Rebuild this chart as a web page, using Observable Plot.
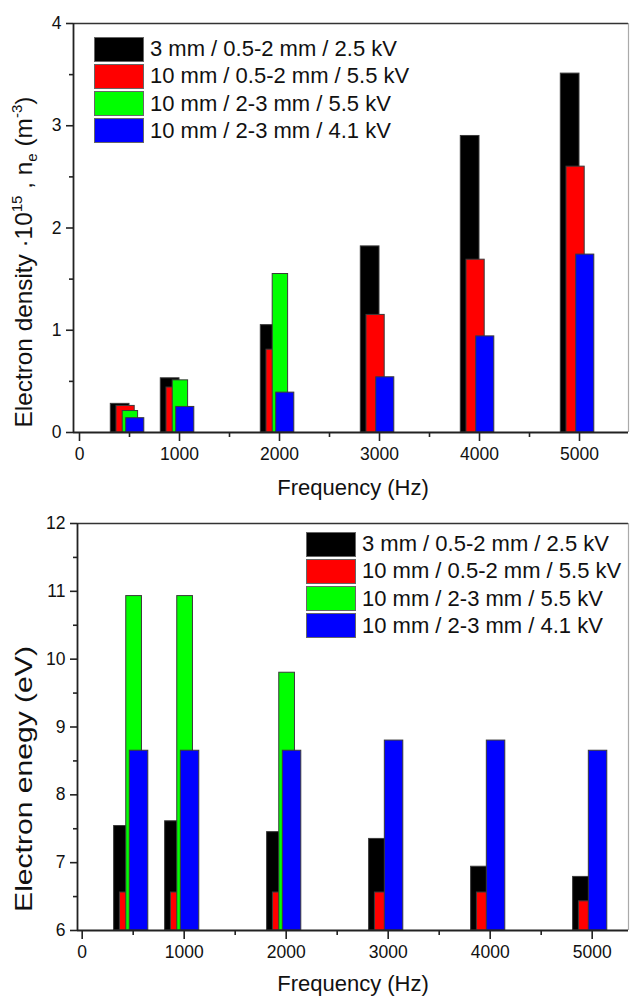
<!DOCTYPE html>
<html>
<head>
<meta charset="utf-8">
<script src="https://cdn.jsdelivr.net/npm/d3@7"></script>
<script src="https://cdn.jsdelivr.net/npm/@observablehq/plot@0.6"></script>
<style>
  html, body { margin: 0; padding: 0; background: #fff; }
  #wrap { position: relative; width: 630px; height: 996px; overflow: hidden; font-family: "Liberation Sans", Arial, sans-serif; }
  .panel { position: absolute; left: 0; }
  .legend { position: absolute; font-size: 22px; color: #111; }
  .row { display: flex; align-items: center; height: 24px; margin-bottom: 3.3px; }
  .sw { width: 48px; height: 23px; border: 1px solid #666; box-sizing: content-box; }
  .lab { margin-left: 6px; white-space: nowrap; line-height: 24px; }
</style>
</head>
<body>
<div id="wrap"></div>
<script>
// ---------- data ----------
const frequencies = [500, 1000, 2000, 3000, 4000, 5000];
const seriesNames = [
  "3 mm / 0.5-2 mm / 2.5 kV",
  "10 mm / 0.5-2 mm / 5.5 kV",
  "10 mm / 2-3 mm / 5.5 kV",
  "10 mm / 2-3 mm / 4.1 kV"
];
const seriesColors = ["#000000", "#ff0000", "#00ff00", "#0000ff"];

// Electron density (x10^15 m^-3)
const densityBlack = [0.28, 0.53, 1.05, 1.82, 2.90, 3.51];
const densityRed   = [0.26, 0.44, 0.81, 1.15, 1.69, 2.60];
const densityGreen = [0.21, 0.51, 1.55, null, null, null];
const densityBlue  = [0.14, 0.25, 0.39, 0.54, 0.94, 1.74];

// Electron energy (eV)
const energyBlack = [7.54, 7.61, 7.45, 7.35, 6.94, 6.79];
const energyRed   = [6.56, 6.56, 6.56, 6.56, 6.56, 6.43];
const energyGreen = [10.93, 10.93, 9.80, null, null, null];
const energyBlue  = [8.65, 8.65, 8.65, 8.80, 8.80, 8.65];

// tick values
const xMajorTicks = [0, 1000, 2000, 3000, 4000, 5000];
const xMinorTicks = [500, 1500, 2500, 3500, 4500];
const densityTicks = [0, 1, 2, 3, 4];
const densityMinor = [0.5, 1.5, 2.5, 3.5];
const energyTicks = [6, 7, 8, 9, 10, 11, 12];
const energyMinor = [6.5, 7.5, 8.5, 9.5, 10.5, 11.5];

// layout: each series' bar span relative to its frequency (Hz), as drawn in the original
const barSpans = [[-187, 0], [-130, 52], [-68, 86], [-33, 148]];

function rows(series) {
  const out = [];
  series.forEach((vals, si) => {
    vals.forEach((v, i) => {
      if (v == null) return;
      out.push({series: si, f: frequencies[i], value: v});
    });
  });
  return out;
}

const FONT = "'Liberation Sans', Arial, sans-serif";

function makePanel({series, xDomain, yDomain, yTicks, yMinor, height, mLeft, mTop, mBottom}) {
  const data = rows(series);
  const base = yDomain[0];
  const marks = [];
  for (let s = 0; s < 4; s++) {
    marks.push(Plot.rectY(data.filter(d => d.series === s), {
      x1: d => d.f + barSpans[s][0],
      x2: d => d.f + barSpans[s][1],
      y1: () => base,
      y2: "value",
      fill: seriesColors[s],
      stroke: "#3a3a3a",
      strokeWidth: 1
    }));
  }
  marks.push(
    Plot.axisX({ticks: xMajorTicks, tickSize: 9, tickPadding: 6, tickFormat: "d", label: null, stroke: "#222", strokeWidth: 1.6}),
    Plot.axisX({ticks: xMinorTicks, tickSize: 5, tickFormat: () => "", label: null, stroke: "#222", strokeWidth: 1.6}),
    Plot.axisY({ticks: yTicks, tickSize: 7, tickPadding: 5, tickFormat: "d", label: null, stroke: "#222", strokeWidth: 1.6}),
    Plot.axisY({ticks: yMinor, tickSize: 4, tickFormat: () => "", label: null, stroke: "#222", strokeWidth: 1.6}),
    Plot.ruleY([yDomain[1]], {stroke: "#333", strokeWidth: 1.6}),
    Plot.ruleX([xDomain[1]], {stroke: "#aaa", strokeWidth: 1.2}),
    Plot.ruleY([yDomain[0]], {stroke: "#222", strokeWidth: 1.8}),
    Plot.ruleX([xDomain[0]], {stroke: "#222", strokeWidth: 1.8})
  );
  return Plot.plot({
    width: 630,
    height,
    marginLeft: mLeft,
    marginRight: 2,
    marginTop: mTop,
    marginBottom: mBottom,
    x: {domain: xDomain},
    y: {domain: yDomain},
    style: {fontFamily: FONT, fontSize: "17.5px", color: "#111", background: "white"},
    marks
  });
}

const wrap = document.getElementById("wrap");

const topPlot = makePanel({
  series: [densityBlack, densityRed, densityGreen, densityBlue],
  xDomain: [-60, 5490], yDomain: [0, 4],
  yTicks: densityTicks, yMinor: densityMinor,
  height: 500, mLeft: 73, mTop: 23, mBottom: 68
});
const bottomPlot = makePanel({
  series: [energyBlack, energyRed, energyGreen, energyBlue],
  xDomain: [-46, 5356], yDomain: [6, 12],
  yTicks: energyTicks, yMinor: energyMinor,
  height: 496, mLeft: 77, mTop: 23, mBottom: 66
});

const d1 = document.createElement("div"); d1.className = "panel"; d1.style.top = "0px"; d1.appendChild(topPlot);
const d2 = document.createElement("div"); d2.className = "panel"; d2.style.top = "500px"; d2.appendChild(bottomPlot);
wrap.appendChild(d1); wrap.appendChild(d2);

// axis titles
function xTitle(svg, cx, baseline) {
  d3.select(svg).append("text")
    .attr("x", cx).attr("y", baseline)
    .attr("text-anchor", "middle")
    .attr("font-family", FONT).attr("font-size", 22).attr("fill", "#111")
    .text("Frequency (Hz)");
}
xTitle(topPlot, 353, 495);
xTitle(bottomPlot, 353, 491);

function yTitle(svg, parts, fontSize, baselineX, centerY, targetLen) {
  const g = d3.select(svg).append("g");
  const t = g.append("text")
    .attr("text-anchor", "middle")
    .attr("font-family", FONT).attr("font-size", fontSize).attr("fill", "#111");
  parts.forEach(p => {
    const ts = t.append("tspan").text(p.t);
    if (p.sup) ts.attr("font-size", fontSize * 0.62).attr("dy", -fontSize * 0.4);
    else if (p.sub) ts.attr("font-size", fontSize * 0.62).attr("dy", fontSize * 0.25);
    if (p.reset) ts.attr("dy", p.reset * fontSize);
  });
  const len = t.node().getComputedTextLength();
  const k = len > 0 ? targetLen / len : 1;
  g.attr("transform", `translate(${baselineX},${centerY}) rotate(-90) scale(${k},1)`);
}
yTitle(topPlot, [
  {t: "Electron density \u00b710"},
  {t: "15", sup: true},
  {t: " , n", reset: 0.4},
  {t: "e", sub: true},
  {t: " (m", reset: -0.25},
  {t: "-3", sup: true},
  {t: ")", reset: 0.4}
], 23, 31.5, 262, 331);
yTitle(bottomPlot, [{t: "Electron enegy (eV)"}], 23, 31.5, 279, 266);

// legends
function legend(left, topPx) {
  const L = document.createElement("div");
  L.className = "legend";
  L.style.left = left + "px";
  L.style.top = topPx + "px";
  seriesNames.forEach((name, i) => {
    const r = document.createElement("div"); r.className = "row";
    const sw = document.createElement("div"); sw.className = "sw"; sw.style.background = seriesColors[i];
    const lb = document.createElement("div"); lb.className = "lab"; lb.textContent = name;
    r.appendChild(sw); r.appendChild(lb); L.appendChild(r);
  });
  wrap.appendChild(L);
}
legend(94, 37);
legend(306, 532);
</script>
</body>
</html>
